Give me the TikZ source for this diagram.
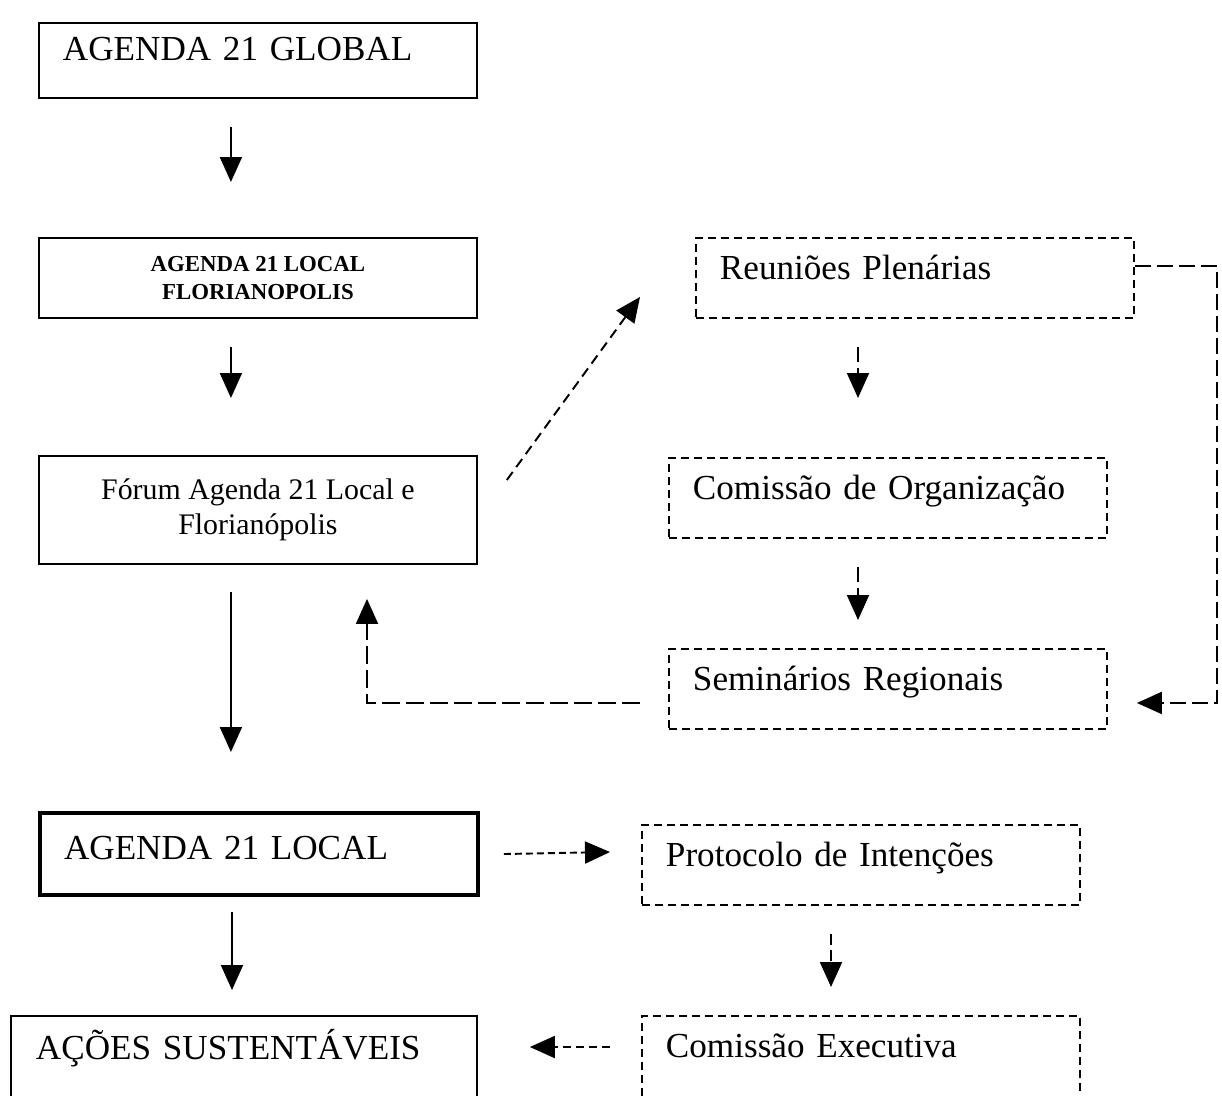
\documentclass[tikz,border=0pt]{standalone}
\usepackage{fontspec}
\setmainfont{Liberation Serif}
\usetikzlibrary{positioning,arrows.meta,calc}

\begin{document}
\begin{tikzpicture}[x = 0.02cm, y = -0.02cm,
    every node/.style = { anchor = north west, inner ysep = 0pt },
    box/.style = { draw, line width = 1.1pt, align = left, text width = 7.8cm,
      inner xsep = 0.48cm, text height = 0.76cm, text depth = 0.74cm,
      font = \fontsize{20}{24}\selectfont },
    cbox/.style = { draw, line width = 1.1pt, align = center,
      minimum width = 8.76cm, inner xsep = 0pt },
    dbox/.style = { box, dash pattern = on 0.16cm off 0.1cm,
      text height = 0.84cm, text depth = 0.76cm },
    tip/.style = { -{Triangle[width = 0.44cm, length = 0.5cm]}, line width = 1.1pt }]
  \useasboundingbox (0,0) rectangle (1222,1095);
  \clip (0,0) rectangle (1222,1095);

  % left column
  \node [box] (glob) at (38,22) { AGENDA 21 GLOBAL };
  \node [cbox, minimum height = 1.6cm, font = \bfseries\fontsize{13}{16}\selectfont]
    (locflo) at (38,237) { AGENDA 21 LOCAL \\ FLORIANOPOLIS };
  \node [cbox, minimum height = 2.16cm, font = \fontsize{17}{20}\selectfont]
    (forum) at (38,455) { Fórum Agenda 21 Local e \\ Florianópolis };
  \node [box, line width = 2.3pt, text height = 0.92cm, text depth = 0.72cm]
    (local) at (38,811) { AGENDA 21 LOCAL };
  \node [box, text width = 8.32cm, inner xsep = 0.5cm, text height = 0.88cm,
    text depth = 0.92cm] (acoes) at (10,1015) { AÇÕES SUSTENTÁVEIS };

  % right column
  \node [dbox] (reun) at (695,237) { Reuniões Plenárias };
  \node [dbox] (comorg) at (668,457) { Comissão de Organização };
  \node [dbox] (sem) at (668,648) { Seminários Regionais };
  \node [dbox] (prot) at (641,824) { Protocolo de Intenções };
  \node [dbox, text depth = 1cm] (cexe) at (641,1015) { Comissão Executiva };

  % solid arrows
  \draw [tip] ($(glob.south)+(-27,28)$) -- ($(glob.south |- locflo.north)+(-27,-55)$);
  \draw [tip] ($(locflo.south)+(-27,28)$) -- ($(locflo.south |- forum.north)+(-27,-57)$);
  \draw [tip] ($(forum.south)+(-27,27)$) -- ($(forum.south |- local.north)+(-27,-59)$);
  \draw [tip] ($(local.south)+(-27,15)$) -- ($(local.south |- acoes.north)+(-27,-25)$);

  % dashed arrows
  \draw [tip, dash pattern = on 0.2cm off 0.12cm]
    ([shift = {(29,25)}]forum.north east) -- ([shift = {(-55,-22)}]reun.south west);
  \draw [tip, dash pattern = on 0.3cm off 0.12cm]
    ([shift = {(163,28)}]reun.south west) -- ([shift = {(190,-59)}]comorg.north west);
  \draw [tip, dash pattern = on 0.3cm off 0.12cm]
    ([shift = {(190,28)}]comorg.south west) -- ([shift = {(190,-28)}]sem.north west);
  \draw [tip, dash pattern = on 0.32cm off 0.12cm]
    ([shift = {(0,-12)}]reun.east) -- ++(82,0) |- ([shift = {(29,14)}]sem.east);
  \draw [tip, dash pattern = on 0.36cm off 0.12cm]
    ([shift = {(-28,14)}]sem.west) -| ([shift = {(329,34)}]forum.south west);
  \draw [tip, dash pattern = on 0.14cm off 0.08cm]
    ([shift = {(24,0)}]local.east) -- ([shift = {(-31,28)}]prot.north west);
  \draw [tip, dash pattern = on 0.22cm off 0.1cm]
    ([shift = {(190,28)}]prot.south west) -- ([shift = {(190,-28)}]cexe.north west);
  \draw [tip, dash pattern = on 0.16cm off 0.1cm]
    ([shift = {(-31,32)}]cexe.north west) -- ([shift = {(52,32)}]acoes.north east);
\end{tikzpicture}
\end{document}
